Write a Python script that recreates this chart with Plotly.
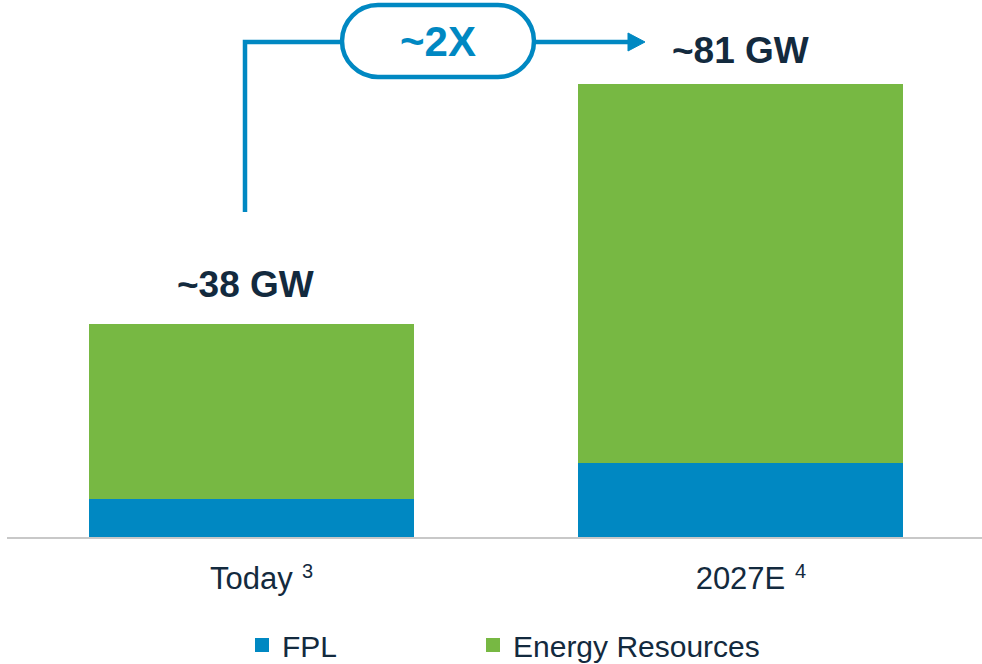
import plotly.graph_objects as go

categories = ["Today", "2027E"]
tick_labels = ["Today", "2027E"]
footnotes = ["3", "4"]
fpl = [7, 13.5]
energy_resources = [31, 67.5]
totals = ["~38 GW", "~81 GW"]
growth_label = "~2X"

BLUE = "#0088c2"
GREEN = "#77b843"
TEXT = "#132a3e"
FONT = "Liberation Sans, Arial, sans-serif"

W, H = 982, 664
ML, MR, MT, MB = 7, 0, 0, 127
PW = W - ML - MR
PH = H - MT - MB


def P(px, py):
    return (px - ML) / PW, (H - MB - py) / PH


def path(cmds):
    out = []
    for c in cmds:
        if isinstance(c, str):
            out.append(c)
        else:
            x, y = P(*c)
            out.append(f"{x:.5f},{y:.5f}")
    return " ".join(out)


fig = go.Figure()
fig.add_trace(go.Bar(x=[0, 1], y=fpl, name="FPL", legend="legend",
                     marker=dict(color=BLUE, line=dict(width=2, color=BLUE)), width=0.6605))
fig.add_trace(go.Bar(x=[0, 1], y=energy_resources, name="Energy Resources", legend="legend2",
                     marker=dict(color=GREEN, line=dict(width=2, color=GREEN)), width=0.6605))

tot_vals = [a + b for a, b in zip(fpl, energy_resources)]
for i, (t, v) in enumerate(zip(totals, tot_vals)):
    fig.add_annotation(x=i, y=v, text=f"<b>{t}</b>", showarrow=False, xref="x", yref="y",
                       yanchor="middle", yshift=41 if i == 0 else 35, xshift=-6 if i == 0 else 0,
                       font=dict(family=FONT, size=37, color=TEXT))

# footnote superscripts next to category labels
for i, fn in enumerate(footnotes):
    fig.add_annotation(x=i, y=0, xref="x", yref="paper", text=fn, showarrow=False,
                       xanchor="center", yanchor="middle", xshift=56 if i == 0 else 60,
                       yshift=-34, font=dict(family=FONT, size=20, color=TEXT))

# growth arrow with pill
r = 36
k = 0.5523 * r
l, rt, top, bot, cy = 342, 534, 5, 77, 41
pill = path(["M", (l + r, top), "L", (rt - r, top),
             "C", (rt - r + k, top), (rt, cy - k), (rt, cy),
             "C", (rt, cy + k), (rt - r + k, bot), (rt - r, bot),
             "L", (l + r, bot),
             "C", (l + r - k, bot), (l, cy + k), (l, cy),
             "C", (l, cy - k), (l + r - k, top), (l + r, top), "Z"])
fig.add_shape(type="path", xref="paper", yref="paper", path=pill,
              line=dict(color=BLUE, width=4.5), fillcolor="rgba(0,0,0,0)")
fig.add_shape(type="path", xref="paper", yref="paper",
              path=path(["M", (245, 212), "L", (245, 42), "L", (l, 42)]),
              line=dict(color=BLUE, width=4.5))
fig.add_shape(type="path", xref="paper", yref="paper",
              path=path(["M", (rt, 42), "L", (630, 42)]),
              line=dict(color=BLUE, width=4.5))
fig.add_shape(type="path", xref="paper", yref="paper",
              path=path(["M", (628, 33), "L", (645, 42), "L", (628, 51), "Z"]),
              line=dict(color=BLUE, width=1), fillcolor=BLUE)
gx, gy = P(438, 41.5)
fig.add_annotation(x=gx, y=gy, xref="paper", yref="paper", text=f"<b>{growth_label}</b>",
                   showarrow=False, font=dict(family=FONT, size=42, color=BLUE),
                   xanchor="center", yanchor="middle")

leg_common = dict(orientation="h", xref="container", yref="container", y=(H - 645) / H,
                  xanchor="left", yanchor="middle",
                  font=dict(family=FONT, size=30, color=TEXT), bgcolor="rgba(0,0,0,0)")

fig.update_layout(
    width=W, height=H, barmode="stack",
    margin=dict(l=ML, r=MR, t=MT, b=MB, pad=0),
    plot_bgcolor="white", paper_bgcolor="white",
    showlegend=True,
    legend=dict(x=242 / W, **leg_common),
    legend2=dict(x=473 / W, **leg_common),
    xaxis=dict(range=[-0.5, 1.494], tickmode="array", tickvals=[0, 1], ticktext=tick_labels,
               showline=True, linecolor="#c8c8c8", linewidth=2, showgrid=False, zeroline=False,
               ticks="", ticklabelstandoff=13,
               tickfont=dict(family=FONT, size=31, color=TEXT)),
    yaxis=dict(range=[0, 96.3], visible=False, showgrid=False, zeroline=False),
    font=dict(family=FONT, color=TEXT),
)

fig.write_html("out.html")
